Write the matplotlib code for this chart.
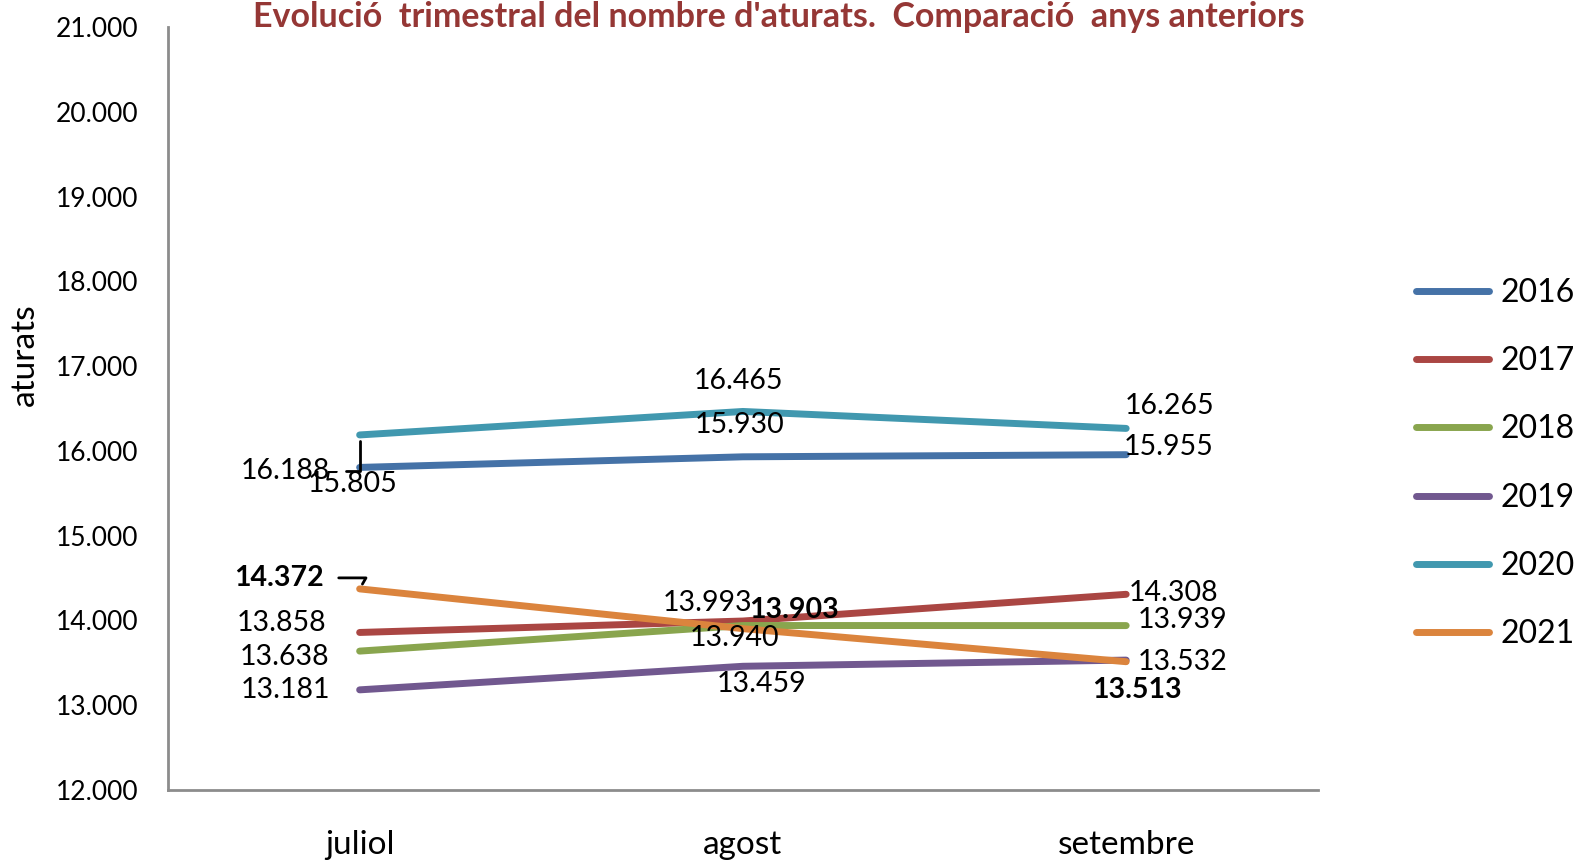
import numpy as np
import matplotlib
matplotlib.use("Agg")
from matplotlib import pyplot as plt
from matplotlib.ticker import FuncFormatter

plt.rcParams['font.family'] = ['Lato', 'DejaVu Sans']

months = ['juliol', 'agost', 'setembre']
years = ['2016', '2017', '2018', '2019', '2020', '2021']
v2016 = [15805, 15930, 15955]
v2017 = [13858, 13993, 14308]
v2018 = [13638, 13940, 13939]
v2019 = [13181, 13459, 13532]
v2020 = [16188, 16465, 16265]
v2021 = [14372, 13903, 13513]
colors = ['#4572A7', '#AA4643', '#89A54E', '#71588F', '#4198AF', '#DB843D']

series = [v2016, v2017, v2018, v2019, v2020, v2021]

# label offsets in pixels (dx, dy), per series and month
offsets = {
    '2016': [(-7, -17), (-3, 32), (42, 8)],
    '2017': [(-78, 9), (-35, 18), (47, 1)],
    '2018': [(-75, -6), (-8, -12), (56, 6)],
    '2019': [(-74, 0), (19, -18), (56, -2)],
    '2020': [(-74, -36), (-4, 30), (43, 22)],
    '2021': [(-81, 11), (51, 19), (11, -28)],
}

def fmt(v):
    return '{:,}'.format(int(v)).replace(',', '.')

fig = plt.figure(figsize=(15.82, 8.66), dpi=100)
ax = fig.add_axes([0.1062, 0.0878, 0.7268, 0.881])
x = np.arange(len(months))

for yr, vals, c in zip(years, series, colors):
    ax.plot(x, vals, color=c, lw=5, solid_capstyle='round', label=yr)

for yr, vals in zip(years, series):
    bold = 'bold' if yr == '2021' else 'normal'
    for i, v in enumerate(vals):
        dx, dy = offsets[yr][i]
        if (yr == '2020' or yr == '2021') and i == 0:
            cs = 'angle,angleA=0,angleB=90,rad=0' if yr == '2020' else 'angle,angleA=0,angleB=60,rad=0'
            ax.annotate(fmt(v), (x[i], v), xytext=(dx, dy), textcoords='offset pixels',
                        ha='center', va='center', fontsize=20.5, fontweight=bold,
                        arrowprops=dict(arrowstyle='-', color='black', lw=2,
                                        connectionstyle=cs, shrinkA=9, shrinkB=4))
        else:
            ax.annotate(fmt(v), (x[i], v), xytext=(dx, dy), textcoords='offset pixels',
                        ha='center', va='center', fontsize=20.5, fontweight=bold)

ax.set_xlim(-0.5, 2.5)
ax.set_ylim(12000, 21000)
ax.set_yticks(np.arange(12000, 21001, 1000))
ax.yaxis.set_major_formatter(FuncFormatter(lambda v, p: fmt(v)))
ax.set_xticks(x)
ax.set_xticklabels(months)
ax.tick_params(axis='y', length=0, pad=21, labelsize=19)
ax.tick_params(axis='x', length=0, pad=29, labelsize=24)
for s in ['top', 'right']:
    ax.spines[s].set_visible(False)
for s in ['left', 'bottom']:
    ax.spines[s].set_color('#8c8c8c')
    ax.spines[s].set_linewidth(2)

fig.text(0.016, 0.59, 'aturats', rotation=90, ha='center', va='center', fontsize=24)
fig.text(0.4925, 0.98, "Evolució  trimestral del nombre d'aturats.  Comparació  anys anteriors",
         ha='center', va='center', fontsize=24.5, fontweight='bold', color='#953735')

fig.legend(loc='upper left', bbox_to_anchor=(0.887, 0.694), frameon=False, fontsize=23,
           handlelength=2.3, handletextpad=0.35, labelspacing=1.2, borderaxespad=0)

fig.savefig('out.png', dpi=100)
